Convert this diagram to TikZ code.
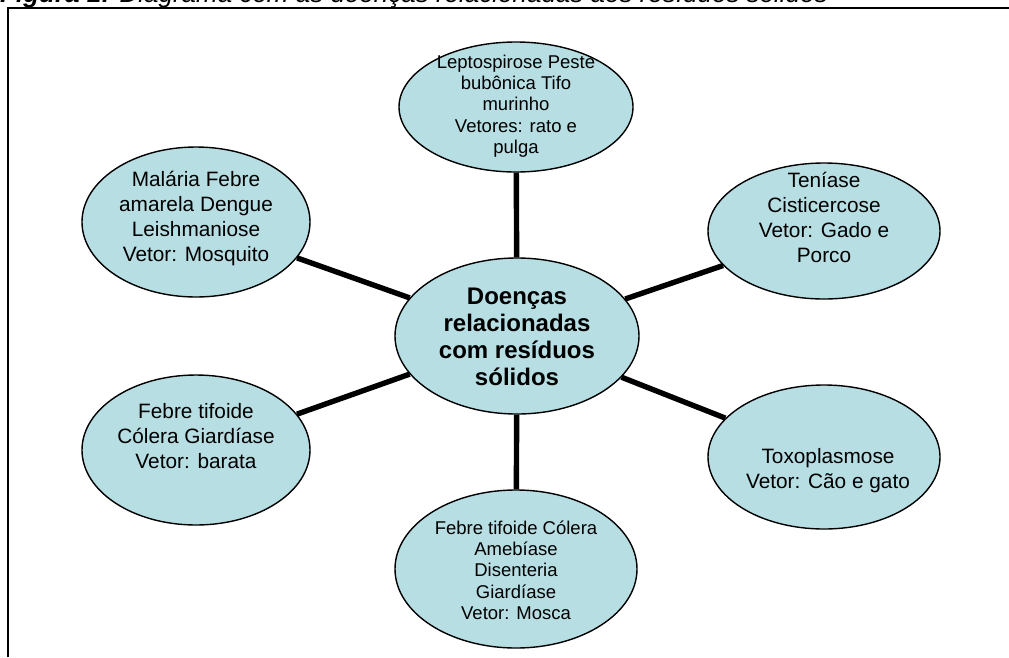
\documentclass[tikz,border=0pt]{standalone}
\usepackage{fontspec}
\setmainfont{Liberation Sans}
\usetikzlibrary{shapes.geometric}
\definecolor{bubble}{RGB}{183,222,227}
\begin{document}
\begin{tikzpicture}[x=1pt,y=-1pt,
  bub/.style={ellipse,draw=black,line width=1.4pt,fill=bubble,inner sep=0pt},
  lbl/.style={align=center,inner sep=0pt},
  link/.style={line width=5.4pt,black},
  smalltxt/.style={font=\fontsize{18.5}{21.3}\selectfont},
  midtxt/.style={font=\fontsize{20.8}{25}\selectfont},
  bigtxt/.style={font=\fontsize{24}{27}\selectfont\bfseries},
  ]
\useasboundingbox (0,0) rectangle (1009,657);
\clip (0,0) rectangle (1009,657);
\node[anchor=base west, inner sep=0pt, font=\fontsize{26}{30}\selectfont\itshape] (cap) at (0,2) {\textbf{Figura 1:} Diagrama com as doenças relacionadas aos resíduos sólidos};
\coordinate (fa) at (8,657);
\coordinate (fb) at (8,8);
\coordinate (fc) at (1009,8);
\draw[line width=1.8pt] (fa) -- (fb) -- (fc);

% ellipses
\node[bub, minimum width=234pt, minimum height=130pt] (top) at (516,107) {};
\node[bub, minimum width=228pt, minimum height=150pt] (tl) at (196,222) {};
\node[bub, minimum width=232pt, minimum height=136pt] (tr) at (824,231) {};
\node[bub, minimum width=244pt, minimum height=156pt] (c) at (517,336) {};
\node[bub, minimum width=228pt, minimum height=150pt] (bl) at (196,450) {};
\node[bub, minimum width=232pt, minimum height=144pt] (br) at (824,457) {};
\node[bub, minimum width=242pt, minimum height=158pt] (b) at (516,569) {};

% connectors
\draw[link] (c) -- (top);
\draw[link] (c) -- (tl);
\draw[link] (c) -- (tr);
\draw[link] (c) -- (bl);
\draw[link] (c) -- (br);
\draw[link] (c) -- (b);

% texts
\node[lbl, smalltxt] (ttop) at (516,106) {Leptospirose Peste\\bubônica Tifo\\murinho\\Vetores: rato e\\pulga};
\node[lbl, midtxt] (ttl) at (196,218) {Malária Febre\\amarela Dengue\\Leishmaniose\\Vetor: Mosquito};
\node[lbl, midtxt] (ttr) at (824,217) {Teníase\\Cisticercose\\Vetor: Gado e\\Porco};
\node[lbl, bigtxt] (tc) at (517,337) {Doenças\\relacionadas\\com resíduos\\sólidos};
\node[lbl, midtxt] (tbl) at (196,436) {Febre tifoide\\Cólera Giardíase\\Vetor: barata};
\node[lbl, midtxt] (tbr) at (828,471) {Toxoplasmose\\Vetor: Cão e gato};
\node[lbl, smalltxt] (tb) at (516,570) {Febre tifoide Cólera\\Amebíase\\Disenteria\\Giardíase\\Vetor: Mosca};
\end{tikzpicture}
\end{document}
